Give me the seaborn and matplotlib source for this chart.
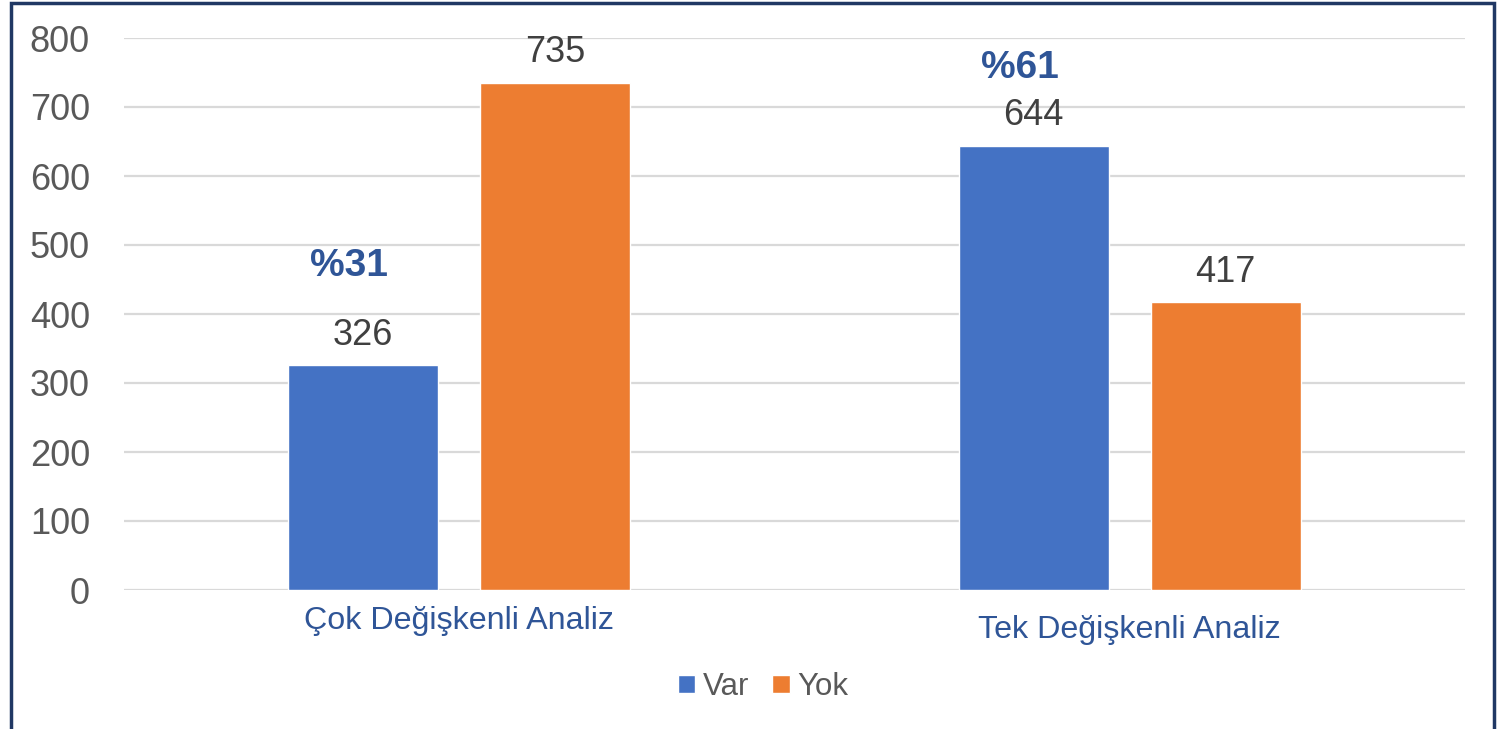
import matplotlib
matplotlib.use("Agg")
import matplotlib.pyplot as plt
from matplotlib.patches import Rectangle
import seaborn as sns
import pandas as pd

categories = ["Çok Değişkenli Analiz", "Tek Değişkenli Analiz"]
series_names = ["Var", "Yok"]
var_values = [326, 644]
yok_values = [735, 417]
pct_labels = ["%31", "%61"]
pct_label_y = [470, 757]
y_ticks = [0, 100, 200, 300, 400, 500, 600, 700, 800]

colors = ["#4472C4", "#ED7D31"]

df = pd.DataFrame({
    "Analiz": categories * 2,
    "Durum": [series_names[0]] * 2 + [series_names[1]] * 2,
    "Sayı": var_values + yok_values,
})

sns.set_theme(style="white")
plt.rcParams["font.family"] = ["Liberation Sans", "DejaVu Sans"]

fig = plt.figure(figsize=(15.06, 7.29), dpi=100)
ax = fig.add_axes([124 / 1506, 1 - 590 / 729, (1465 - 124) / 1506, (590 - 38) / 729])

sns.barplot(data=df, x="Analiz", y="Sayı", hue="Durum", order=categories,
            hue_order=series_names, palette=colors, width=0.573, gap=0.219,
            saturation=1, ax=ax, legend=True)

ax.set_ylim(0, 800)
ax.set_yticks(y_ticks)
ax.set_yticklabels([str(t) for t in y_ticks])
ax.grid(axis="y", color="#D9D9D9", linewidth=1.6)
ax.set_axisbelow(True)
for s in ax.spines.values():
    s.set_visible(False)
ax.tick_params(axis="y", length=0, labelsize=26, labelcolor="#595959", pad=24.5)
ax.tick_params(axis="x", length=0)
ax.set_xlabel("")
ax.set_ylabel("")
ax.set_xticks(range(len(categories)))
ax.set_xticklabels([])

# category labels (second one sits slightly lower, as in the reference)
label_offsets_px = [31, 40]
for i, cat in enumerate(categories):
    ax.annotate(cat, xy=(i, 0), xycoords=("data", "axes fraction"),
                xytext=(0, -label_offsets_px[i] * 72 / 100), textcoords="offset points",
                ha="center", va="center", fontsize=23.2, color="#2F5597")

for cont in ax.containers:
    ax.bar_label(cont, fmt="%d", padding=9, fontsize=26, color="#404040")

# percentage annotations above the "Var" bars
var_bars = ax.containers[0]
for bar, txt, yv in zip(var_bars, pct_labels, pct_label_y):
    xc = bar.get_x() + bar.get_width() / 2
    ax.annotate(txt, xy=(xc, yv), xycoords="data", xytext=(-10, 0),
                textcoords="offset points", ha="center", va="center",
                fontsize=28, fontweight="bold", color="#2F5597")

handles, labels = ax.get_legend_handles_labels()
ax.get_legend().remove()
fig.legend(handles, labels, loc="center", bbox_to_anchor=(763 / 1506, 1 - 687 / 729),
           ncol=2, frameon=False, fontsize=22.5, labelcolor="#595959",
           handlelength=0.55, handleheight=0.55, handletextpad=0.25,
           columnspacing=0.75)

# dark frame around the chart (bottom edge is cut off in the reference)
fig.add_artist(Rectangle((11 / 1506, -0.1), (1494 - 11) / 1506, 1.1 - 3 / 729,
                         transform=fig.transFigure, fill=False,
                         edgecolor="#203864", linewidth=2.5))

fig.savefig("out.png", dpi=100)
